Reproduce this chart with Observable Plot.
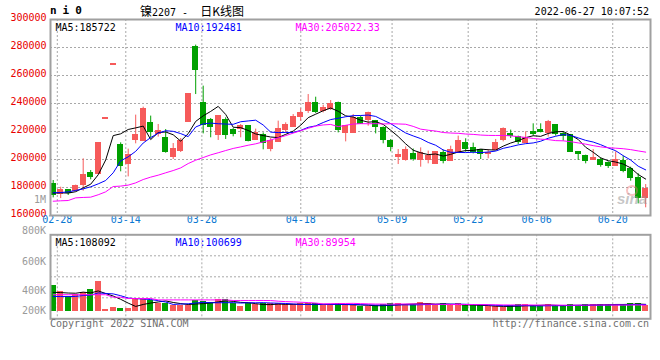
<!DOCTYPE html>
<html><head><meta charset="utf-8">
<script src="https://cdn.jsdelivr.net/npm/d3@7"></script>
<script src="https://cdn.jsdelivr.net/npm/@observablehq/plot@0.6"></script>
<style>
html,body{margin:0;padding:0;background:#fff;}
#wrap{position:relative;width:660px;height:360px;overflow:hidden;background:#fff;}
#wrap > svg{position:absolute;left:0;}
.t{position:absolute;white-space:pre;font:10px "DejaVu Sans Mono",monospace;line-height:12px;}
</style></head><body><div id="wrap"></div>
<script>
// ---------------- data ----------------
const dates = ["02-28","03-01","03-02","03-03","03-04","03-07","03-08","03-09","03-10","03-11",
"03-14","03-15","03-16","03-17","03-18","03-21","03-22","03-23","03-24","03-25",
"03-28","03-29","03-30","03-31","04-01","04-06","04-07","04-08","04-11","04-12",
"04-13","04-14","04-15","04-18","04-19","04-20","04-21","04-22","04-25","04-26",
"04-27","04-28","04-29","05-05","05-06","05-09","05-10","05-11","05-12","05-13",
"05-16","05-17","05-18","05-19","05-20","05-23","05-24","05-25","05-26","05-27",
"05-30","05-31","06-01","06-02","06-06","06-07","06-08","06-09","06-10","06-13",
"06-14","06-15","06-16","06-17","06-20","06-21","06-22","06-23","06-24","06-27"];
const open = [182100,175500,177900,177400,181700,190200,189800,229300,267900,210200,
196900,214000,213600,226000,218100,215200,201700,206000,226700,280200,
240200,228100,217600,228100,220700,222100,223800,214000,217100,207600,
212600,221000,223300,230500,234500,240000,234500,236000,240200,218800,
219000,229300,228100,227400,222600,213100,202100,199500,204000,199500,
199500,197100,204800,198800,204800,211700,207900,206400,203800,206900,
214000,218300,216000,211900,219800,221200,219000,224500,217900,217100,
205200,202400,200000,199500,197600,195500,198800,192900,186400,172600];
const high = [185000,180200,177900,181700,200500,192100,211700,229300,267900,211900,
207400,231700,237400,231000,225000,221400,211400,215000,246900,281700,
252400,229300,231000,229800,222100,225000,223800,221700,219000,215000,
227400,226200,232100,236200,246400,244500,238800,242100,241000,223800,
232100,231000,233800,227900,223300,214300,207100,209000,207500,208300,
206000,205200,206700,209500,216700,214800,211700,207100,207100,214300,
222600,221000,216700,219800,225500,225500,227900,225000,219800,217900,
205200,203100,207100,201200,198300,205500,202400,194500,189800,182100];
const low = [172600,172100,174300,176900,177400,185500,189800,229300,267900,191200,
187600,211200,213100,215500,216000,204500,200000,205000,226700,246400,
218300,215500,213600,214300,216200,215500,212600,213600,206900,205500,
212600,219000,223300,227400,232900,232900,233300,235000,219000,212600,
219000,225000,223800,218300,211200,205500,196400,198800,198800,194500,
196900,197100,196900,198800,204800,205200,204000,200000,200500,206900,
212600,215000,210700,211900,216700,219000,216000,216700,213100,205500,
199300,196900,200000,194500,193600,195500,190500,184500,168300,165500];
const close = [174500,178100,176400,180900,188800,187600,211700,229300,267900,195200,
203100,217400,235700,219800,220200,205200,207400,213100,246400,264000,
225000,223300,231000,217600,218300,223600,213100,218600,211900,213100,
221700,224500,230200,232900,240200,234000,236900,239800,221400,223800,
229800,225500,232900,223300,213800,209000,203100,206700,200500,204800,
202400,205200,199300,206700,213100,207600,205700,204000,204500,211700,
221900,216700,212400,215500,218300,219800,226900,218300,216700,205500,
204300,198800,200700,196400,195500,199500,191700,186900,172900,179000];
const volume = [393000,301000,225000,249000,291000,332000,454000,26000,57000,41000,
41000,199000,179000,164000,122000,122000,81000,92000,92000,164000,
148000,133000,173000,179000,118000,72000,112000,96000,112000,112000,
112000,96000,96000,112000,112000,112000,87000,96000,118000,96000,
96000,72000,72000,81000,103000,118000,118000,103000,103000,133000,
118000,81000,118000,81000,118000,81000,81000,81000,72000,72000,
61000,81000,103000,103000,81000,81000,103000,81000,81000,103000,
81000,103000,103000,103000,103000,103000,103000,118000,118000,81000];
// moving-average values before enough in-window history
const ma5Head  = [176000,176200,176000,177000];
const ma10Head = [176200,176400,176900,177900,179000,180500,182600,185000,190500];
const ma30Head = [170200,170500,170700,172600,172900,173100,174800,176900,180700,181000,
181700,183300,185700,187400,188800,190500,192100,194000,197100,199500,
201400,203300,204800,206400,207900,209000,210200,211200,212600];
const vma5Head  = [288000,285000,278000,275000];
const vma10Head = [224000,224000,224000,226000,240000,245000,280000,272000,265000];
const vma30Head = [252000,252000,252000,252000,252000,252000,252000,252000,214000,214000,
194000,194000,194000,194000,173000,173000,173000,173000,173000,173000,
173000,173000,173000,173000,164000,164000,164000,164000,164000];
const priceTicks = [160000,180000,200000,220000,240000,260000,280000,300000];
const tickLabels = ["02-28","03-14","03-28","04-18","05-09","05-23","06-06","06-20"];
const maLabels  = ["MA5:185722","MA10:192481","MA30:205022.33"];
const vmaLabels = ["MA5:108092","MA10:100699","MA30:89954"];
const volAxisLabels = ["1M","800K","600K","400K","200K"];
const titleName = "镍", titleCode = "2207 - ", titleTail = "日K线图";
const symbol = "ni0", stamp = "2022-06-27 10:07:52";
const copyright = "Copyright 2022 SINA.COM", url = "http://finance.sina.com.cn";

// ---------------- styles ----------------
const RED = "#f65a5a", GREEN = "#00a000", GRID = "#a8a8a8", FRAME = "#a0a0a0";
const maColors = ["#000000", "#0000ff", "#ff00ff"];
const MONO = "DejaVu Sans Mono";

// ---------------- derived ----------------
function movingAvg(vals, n, head) {
  return vals.map((_, i) => i < n - 1 ? head[i] : d3.mean(vals.slice(i - n + 1, i + 1)));
}
const ma = [movingAvg(close, 5, ma5Head), movingAvg(close, 10, ma10Head), movingAvg(close, 30, ma30Head)];
const vma = [movingAvg(volume, 5, vma5Head), movingAvg(volume, 10, vma10Head), movingAvg(volume, 30, vma30Head)];
const rows = dates.map((d, i) => ({i, d, o: open[i], h: high[i], l: low[i], c: close[i], v: volume[i],
  col: close[i] >= open[i] ? RED : GREEN}));
const maRows = (arrs) => arrs.map((a, k) => a.map((v, i) => ({i, v, k}))).flat();
// date grid positions (the chart spaces its date grid slightly wider than its candles)
const tickPos = (lab) => Math.max(dates.indexOf(lab), 1) * 1.0145 - 0.467;
const xDomain = [-0.36, 79.64];
const half = 0.38;

const wrap = document.getElementById("wrap");

// ---------------- main (price) panel ----------------
const mainPlot = Plot.plot({
  width: 660, height: 232,
  marginLeft: 50, marginRight: 10, marginTop: 19, marginBottom: 17,
  x: {domain: xDomain, axis: null},
  y: {domain: [160000, 300000], axis: null},
  color: {type: "identity"},
  style: {fontFamily: MONO, fontSize: "10px", background: "transparent", overflow: "visible"},
  marks: [
    Plot.ruleY(priceTicks.slice(1, -1), {stroke: GRID, strokeDasharray: "2,2"}),
    Plot.ruleX(tickLabels, {x: tickPos, stroke: GRID, strokeDasharray: "2,2"}),
    Plot.text(priceTicks, {y: d => d, text: d => String(d), frameAnchor: "left", textAnchor: "end", dx: -4, dy: -1.5, fill: "#e80000"}),
    Plot.text(tickLabels, {x: tickPos, text: d => d, frameAnchor: "bottom", dy: 7, fill: "#0a78d2"}),
    Plot.ruleX(rows, {x: "i", y1: "l", y2: "h", stroke: "col", strokeWidth: 1}),
    Plot.rect(rows, {x1: d => d.i - half, x2: d => d.i + half, y1: d => Math.min(d.o, d.c), y2: d => Math.max(d.o, d.c),
      fill: "col", insetTop: -0.6, insetBottom: -0.6, shapeRendering: "crispEdges"}),
    Plot.line(maRows(ma), {x: "i", y: "v", z: "k", stroke: d => maColors[d.k], strokeWidth: 1}),
    ...maLabels.map((t, k) => Plot.text([t], {text: d => d, frameAnchor: "top-left", dx: 5 + 120 * k, dy: 4.5, textAnchor: "start", fill: maColors[k]})),
    Plot.frame({stroke: FRAME, strokeWidth: 2})
  ]
});
mainPlot.style.top = "0px";
wrap.appendChild(mainPlot);

// ---------------- volume panel ----------------
const volPerPx = 15300;
const volTop = 230, volBase = 310.7, volFrameTop = 234.3, volFrameBottom = 318.3;
const vDomain = [-(volFrameBottom - volBase) * volPerPx, (volBase - volFrameTop) * volPerPx];
const vGrid = [0.25, 0.5, 0.75].map(f => vDomain[0] + f * (vDomain[1] - vDomain[0]));
const volPlot = Plot.plot({
  width: 660, height: 130,
  marginLeft: 50, marginRight: 10, marginTop: volFrameTop - volTop, marginBottom: 360 - volFrameBottom,
  x: {domain: xDomain, axis: null},
  y: {domain: vDomain, axis: null},
  color: {type: "identity"},
  style: {fontFamily: MONO, fontSize: "10px", background: "transparent", overflow: "visible"},
  marks: [
    Plot.ruleY(vGrid, {stroke: GRID, strokeDasharray: "2,2"}),
    Plot.ruleX(tickLabels, {x: tickPos, stroke: GRID, strokeDasharray: "2,2"}),
    Plot.rect(rows, {x1: d => d.i - half, x2: d => d.i + half, y1: 0, y2: "v", fill: "col", shapeRendering: "crispEdges"}),
    Plot.line(maRows(vma), {x: "i", y: "v", z: "k", stroke: d => maColors[d.k], strokeWidth: 1}),
    ...vmaLabels.map((t, k) => Plot.text([t], {text: d => d, frameAnchor: "top-left", dx: 5 + 120 * k, dy: 4, textAnchor: "start", fill: maColors[k]})),
    Plot.frame({stroke: FRAME, strokeWidth: 2})
  ]
});
volPlot.style.top = volTop + "px";
wrap.appendChild(volPlot);

// ---------------- surrounding text ----------------
function label(html, st) {
  const d = document.createElement("div");
  d.className = "t";
  d.innerHTML = html;
  Object.assign(d.style, st);
  wrap.appendChild(d);
  return d;
}
label(symbol, {left: "50px", top: "5px", font: `bold 11px "${MONO}"`, letterSpacing: "6px", lineHeight: "12px", color: "#000"});
label(`<span style="font:12px 'Noto Sans CJK SC'">${titleName}</span><span style="font:10px '${MONO}'">${titleCode}</span><span style="font:12px 'Noto Sans CJK SC';margin-left:6px">${titleTail}</span>`,
  {left: "140px", top: "2px", lineHeight: "16px", color: "#000"});
label(stamp, {right: "11px", top: "6px", color: "#000"});
const volLabelY = [200, 230.7, 261.7, 290.7, 310.7];
volAxisLabels.forEach((t, k) => label(t, {right: "614px", top: (volLabelY[k] - 5.8) + "px", color: "#9a9a9a", textAlign: "right"}));
label(copyright, {left: "50px", top: "317.5px", color: "#707070"});
label(url, {right: "11px", top: "317.5px", color: "#707070"});
// faint sina watermark
label("", {left: "626px", top: "185px", width: "8px", height: "7px", borderRadius: "50%", border: "2px solid rgba(240,120,120,0.45)"});
label("sina", {left: "617px", top: "191px", font: "italic bold 15px 'Liberation Sans'", lineHeight: "16px", color: "rgba(150,150,150,0.55)"});
</script></body></html>
